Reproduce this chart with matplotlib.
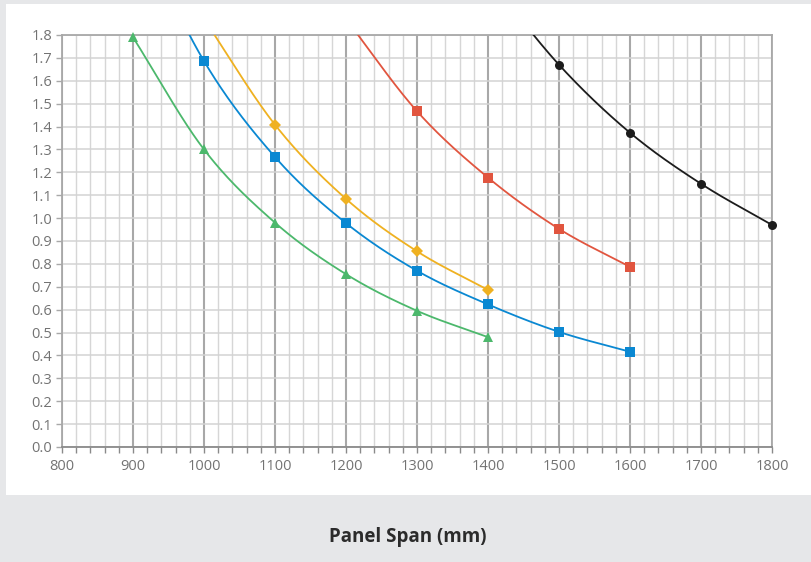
import numpy as np
import matplotlib
matplotlib.use("Agg")
import matplotlib.pyplot as plt
from matplotlib.patches import Rectangle
from matplotlib.ticker import MultipleLocator

plt.rcParams["font.family"] = ["Open Sans", "DejaVu Sans"]

# span (mm) vs deflection, one series per panel type
green_x = [900, 1000, 1100, 1200, 1300, 1400]
green_y = [1.79, 1.30, 0.98, 0.755, 0.595, 0.48]

blue_x = [900, 1000, 1100, 1200, 1300, 1400, 1500, 1600]
blue_y = [2.31, 1.686, 1.267, 0.978, 0.77, 0.623, 0.503, 0.416]

yellow_x = [1000, 1100, 1200, 1300, 1400]
yellow_y = [1.87, 1.408, 1.084, 0.855, 0.686]

red_x = [1200, 1300, 1400, 1500, 1600]
red_y = [1.87, 1.467, 1.177, 0.953, 0.787]

black_x = [1400, 1500, 1600, 1700, 1800]
black_y = [2.05, 1.670, 1.373, 1.150, 0.970]

series = [
    (green_x, green_y, "#4cb86c", "^", 7),
    (blue_x, blue_y, "#0a88d2", "s", 6.5),
    (yellow_x, yellow_y, "#efb121", "D", 6),
    (red_x, red_y, "#e1553f", "s", 6.5),
    (black_x, black_y, "#1c1c1c", "o", 6.5),
]


def smooth(xs, ys, n=40):
    # catmull-rom style curve through the points (like a spreadsheet "smoothed line")
    xs = np.asarray(xs, float)
    ys = np.asarray(ys, float)
    px = np.concatenate([[2 * xs[0] - xs[1]], xs, [2 * xs[-1] - xs[-2]]])
    py = np.concatenate([[2 * ys[0] - ys[1]], ys, [2 * ys[-1] - ys[-2]]])
    ox, oy = [], []
    for i in range(1, len(px) - 2):
        t = np.linspace(0, 1, n)
        for arr, out in ((px, ox), (py, oy)):
            p0, p1, p2, p3 = arr[i - 1], arr[i], arr[i + 1], arr[i + 2]
            c1 = p1 + (p2 - p0) / 6
            c2 = p2 - (p3 - p1) / 6
            out.extend((1 - t) ** 3 * p1 + 3 * (1 - t) ** 2 * t * c1 + 3 * (1 - t) * t ** 2 * c2 + t ** 3 * p2)
    return np.array(ox), np.array(oy)


fig = plt.figure(figsize=(8.11, 5.62), dpi=100, facecolor="#e6e7e9")
fig.patches.append(Rectangle((6 / 811, (562 - 495) / 562), 805 / 811, 491 / 562,
                             transform=fig.transFigure, facecolor="white", edgecolor="none", zorder=-10))

ax = fig.add_axes([62 / 811, (562 - 447) / 562, 710 / 811, 412 / 562])
ax.set_zorder(1)
ax.set_facecolor("white")
ax.set_xlim(800, 1800)
ax.set_ylim(0, 1.8)

ax.xaxis.set_major_locator(MultipleLocator(100))
ax.xaxis.set_minor_locator(MultipleLocator(20))
ax.yaxis.set_major_locator(MultipleLocator(0.1))

ax.grid(which="minor", axis="x", color="#d6d6d6", lw=1.0, zorder=1)
ax.grid(which="major", axis="y", color="#d3d3d3", lw=1.1, zorder=1)
ax.grid(which="major", axis="x", color="#a8a8a8", lw=1.5, zorder=2)

for side in ["top", "left", "right"]:
    ax.spines[side].set_color("#a8a8a8")
    ax.spines[side].set_linewidth(1.3)
ax.spines["bottom"].set_color("#8a8a8a")
ax.spines["bottom"].set_linewidth(1.3)

ax.tick_params(axis="x", which="both", length=4, width=1, color="#8a8a8a",
               labelsize=10.5, labelcolor="#737373", pad=5)
ax.tick_params(axis="y", which="both", length=4, width=1, color="#a8a8a8",
               labelsize=10.5, labelcolor="#737373", pad=3)
ax.yaxis.set_major_formatter(plt.FuncFormatter(lambda v, p: "%.1f" % v))

for xs, ys, col, mk, ms in series:
    sx, sy = smooth(xs, ys)
    ax.plot(sx, sy, color=col, lw=1.3, zorder=3, solid_capstyle="round")
    xs_a = np.asarray(xs)
    ys_a = np.asarray(ys)
    keep = ys_a <= 1.8
    ax.plot(xs_a[keep], ys_a[keep], ls="none", marker=mk, ms=ms, color=col,
            markeredgewidth=0, zorder=4, clip_on=False)

fig.text(408 / 811, (562 - 537) / 562, "Panel Span (mm)", ha="center", va="center",
         fontsize=13.5, fontweight="bold", color="#2b2b2b")

plt.savefig("out.png", dpi=100, facecolor=fig.get_facecolor())
